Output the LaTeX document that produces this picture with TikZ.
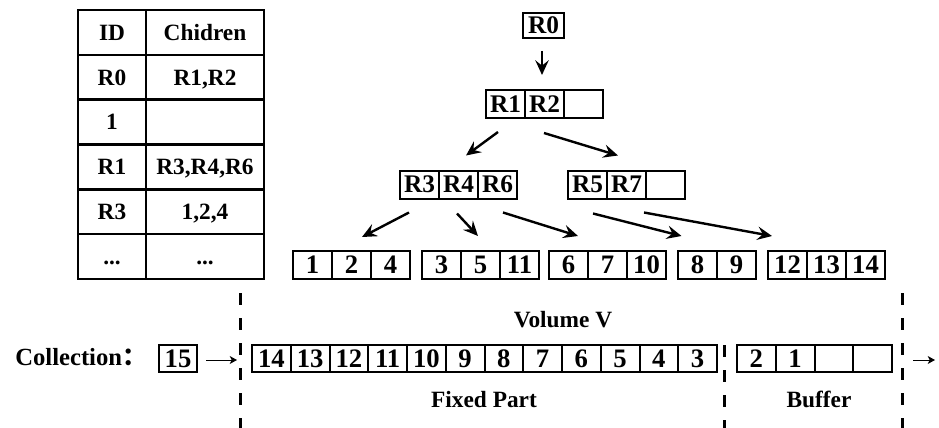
\documentclass[tikz,border=0pt]{standalone}
\usepackage{fontspec}
\setmainfont{Liberation Serif}
\newfontfamily\cjk{Noto Sans CJK SC}
\usetikzlibrary{arrows.meta,calc}
\newcommand{\pts}{...}
\begin{document}
\begin{tikzpicture}[x=0.75pt,y=-0.75pt]
		\tikzstyle{cellule}=[draw,line width=1.8pt,minimum height=33.6pt,inner sep=0pt,text height=11.6pt,text depth=0pt,font=\fontsize{17.5}{17.5}\selectfont\bfseries]
		\tikzstyle{case}=[draw,line width=1.5pt,minimum width=29.25pt,minimum height=21pt,inner sep=0pt,font=\fontsize{19}{19}\selectfont\bfseries]
		\tikzstyle{chiffre}=[case,font=\fontsize{20}{20}\selectfont\bfseries]
		\tikzstyle{fleche}=[-{Stealth[length=11pt,width=10pt,inset=4pt]},line width=1.8pt]
		\tikzstyle{petite}=[-{Stealth[length=5.5pt,width=6pt,inset=1.5pt]},line width=0.75pt]
		\tikzstyle{tirets}=[line width=2.25pt,dash pattern=on 9pt off 9.75pt]
		\tikzstyle{texte}=[inner sep=0pt,font=\fontsize{17.5}{17.5}\selectfont\bfseries]
		\useasboundingbox (0,0) rectangle (939,428);
		% table
		\foreach \id/\ch [count=\i] in {ID/Chidren, R0/{R1,R2}, 1/{}, R1/{R3,R4,R6}, R3/{1,2,4}, \pts/\pts} {
			\node[cellule,minimum width=51pt] (id\i) at (112,-12.3+44.8*\i) {\id};
			\node[cellule,minimum width=88.5pt] (ch\i) at (205,-12.3+44.8*\i) {\ch};
		}
		% arbre
		\node[case,minimum width=30.75pt,minimum height=18.75pt] (r0) at (543.5,25.5) {R0};
		\node[case] (r1) at (505.5,104) {R1};
		\node[case] (r2) at (544.5,104) {R2};
		\node[case] (r2v) at (583.5,104) {};
		\node[case] (r3) at (419.5,184.5) {R3};
		\node[case] (r4) at (458.5,184.5) {R4};
		\node[case] (r6) at (497.5,184.5) {R6};
		\node[case] (r5) at (587.5,184.5) {R5};
		\node[case] (r7) at (626.5,184.5) {R7};
		\node[case] (r7v) at (665.5,184.5) {};
		% feuilles
		\foreach \x/\liste [count=\g] in {293/{1,2,4}, 422/{3,5,11}, 549/{6,7,10}, 678/{8,9}, 768/{12,13,14}}
			\foreach \v [count=\k] in \liste
				\node[chiffre] (f\g-\k) at (\x+39*\k-19.5,265) {\v};
		\draw[fleche] ($(r0.south)+(-1.5,12)$) -- ($(r2.north)+(-2.5,-14)$);
		\draw[fleche] ($(r1.south)+(-7.5,13)$) -- ($(r4.north)+(7.5,-14)$);
		\draw[fleche] ($(r2.south)+(-0.5,14)$) -- ($(r5.north)+(30.5,-14)$);
		\draw[fleche] ($(r3.south)+(-10.5,13)$) -- ($(f1-2.north)+(10.5,-13)$);
		\draw[fleche] ($(r4.south)+(-1.5,14)$) -- ($(f2-2.north)+(-2.5,-14)$);
		\draw[fleche] ($(r6.south)+(5.5,13)$) -- ($(f3-1.north)+(9.5,-14)$);
		\draw[fleche] ($(r5.south)+(5.5,14)$) -- ($(f4-1.north)+(-16,-14)$);
		\draw[fleche] ($(r7.south)+(17.5,13)$) -- ($(f5-1.north)+(-15.5,-14)$);
		% volume
		\node[texte,anchor=base west,font=\fontsize{18.5}{18.5}\selectfont\bfseries] (coll) at (15,365) {Collection{\cjk ：}};
		\node[chiffre,minimum width=28.5pt,minimum height=20.25pt] (c15) at (178,358.5) {15};
		\foreach \v [count=\k] in {14,13,...,3}
			\node[chiffre,minimum width=29.06pt,minimum height=20.25pt] (fx\k) at (252+38.75*\k-19.375,358.5) {\v};
		\foreach \v [count=\k] in {2,1,{},{}}
			\node[chiffre,minimum width=29.06pt,minimum height=20.25pt] (bf\k) at (737+38.75*\k-19.375,358.5) {\v};
		\draw[petite] ($(c15.east)+(8,1.5)$) -- ($(fx1.west)+(-14,1.5)$);
		\coordinate (sortie) at (935,360);
		\draw[petite] ($(bf4.east)+(20,1.5)$) -- (sortie);
		\draw[tirets] (240,293) -- (240,428);
		\draw[tirets] (724,345) -- (724,428);
		\draw[tirets] (902,293) -- (902,428);
		\node[texte,anchor=base] (vol) at (563,327) {Volume V};
		\node[texte,anchor=base] (fixe) at (484,407) {Fixed Part};
		\node[texte,anchor=base] (buf) at (819,407) {Buffer};
	\end{tikzpicture}
\end{document}
